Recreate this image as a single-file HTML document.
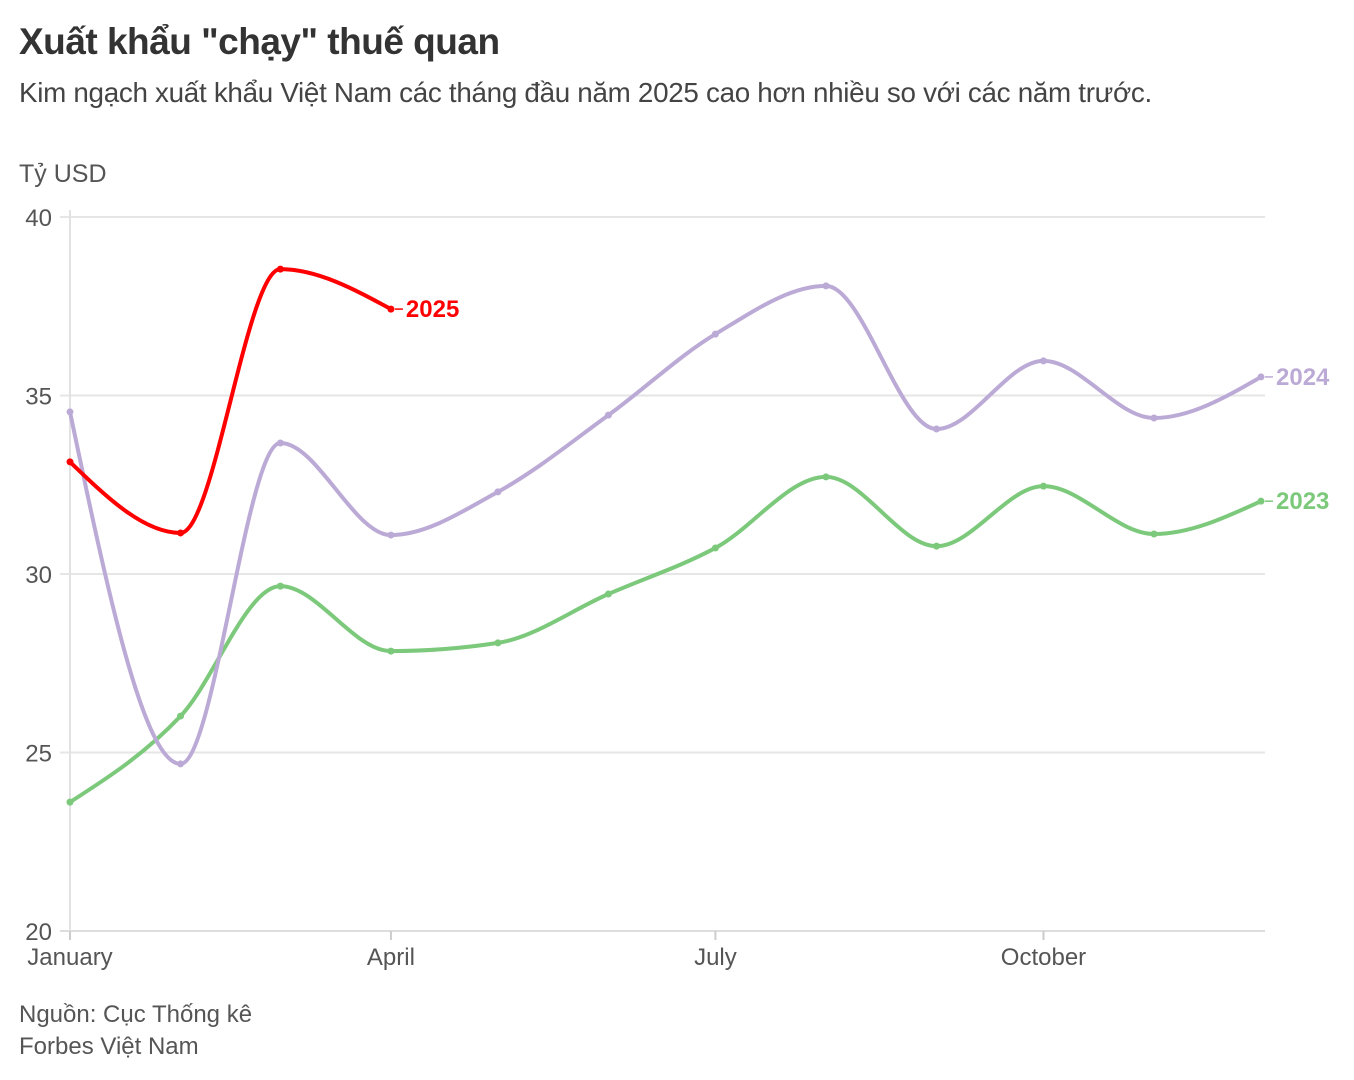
<!DOCTYPE html>
<html><head><meta charset="utf-8">
<style>
body{margin:0;background:#fff;font-family:"Liberation Sans","Noto Sans CJK SC",sans-serif;}
#wrap{position:relative;width:1354px;height:1080px;overflow:hidden;}
h1{position:absolute;left:19px;top:21px;margin:0;font-size:37px;font-weight:bold;color:#333;letter-spacing:-0.5px;}
.sub{position:absolute;left:19px;top:77px;font-size:27.8px;color:#444;letter-spacing:-0.3px;}
.unit{position:absolute;left:19px;top:160px;font-size:25px;color:#555;}
.src{position:absolute;left:19px;font-size:24px;color:#555;}
svg text{font-family:"Liberation Sans",sans-serif;}
</style></head><body>
<div id="wrap">
<h1>Xuất khẩu "chạy" thuế quan</h1>
<div class="sub">Kim ngạch xuất khẩu Việt Nam các tháng đầu năm 2025 cao hơn nhiều so với các năm trước.</div>
<div class="unit">Tỷ USD</div>
<svg id="chart" width="1354" height="1080" style="position:absolute;left:0;top:0"></svg>
<div class="src" style="top:1001px">Nguồn: Cục Thống kê</div>
<div class="src" style="top:1033px">Forbes Việt Nam</div>
</div>
<script>
const dayOfYear=[0,31,59,90,120,151,181,212,243,273,304,334];
const yTicks=[20,25,30,35,40];
const xTickLabels=["January","April","July","October"];
const xTickMonths=[0,3,6,9];
const s2023=[23.61,26.02,29.66,27.84,28.07,29.44,30.73,32.72,30.78,32.46,31.12,32.04];
const s2024=[34.54,24.68,33.67,31.09,32.3,34.45,36.72,38.07,34.06,35.97,34.37,35.52];
const s2025=[33.14,31.15,38.54,37.42];
const seriesNames=["2023","2024","2025"];

const svg=document.getElementById('chart');
const NS='http://www.w3.org/2000/svg';
const x=m=>70+dayOfYear[m]*(1191/334);
const y=v=>931-(v-20)*(714/20);
function mk(tag,attrs,parent){const e=document.createElementNS(NS,tag);for(const k in attrs)e.setAttribute(k,attrs[k]);(parent||svg).appendChild(e);return e;}
yTicks.forEach(t=>{
  const g=mk('line',{x1:60,x2:1265,y1:y(t),y2:y(t),stroke:t===20?'#ddd':'#e6e6e6','stroke-width':2});
  
  
  const tx=mk('text',{x:52,y:y(t)+9,'text-anchor':'end','font-size':24,fill:'#555'});
  tx.textContent=t;
  
  
});
const ax=mk('line',{x1:70,x2:70,y1:210,y2:938,stroke:'#e2e2e2','stroke-width':2});


xTickMonths.forEach((m,i)=>{
  const tk=mk('line',{x1:x(m),x2:x(m),y1:931,y2:940,stroke:'#ccc','stroke-width':2});
  
  
  const tx=mk('text',{x:x(m),y:965,'text-anchor':'middle','font-size':24,fill:'#555'});
  tx.textContent=xTickLabels[i];
  
  
});
const sign=v=>v<0?-1:1;
function pathD(vals){
  const p=vals.map((v,i)=>[x(i),y(v)]);
  const n=p.length;
  const h=[],s=[];
  for(let i=0;i<n-1;i++){h[i]=p[i+1][0]-p[i][0];s[i]=(p[i+1][1]-p[i][1])/h[i];}
  const t=new Array(n);
  for(let i=1;i<n-1;i++){
    const pp=(s[i-1]*h[i]+s[i]*h[i-1])/(h[i-1]+h[i]);
    t[i]=(sign(s[i-1])+sign(s[i]))*Math.min(Math.abs(s[i-1]),Math.abs(s[i]),0.5*Math.abs(pp))||0;
  }
  if(n>2){t[0]=(3*s[0]-t[1])/2;t[n-1]=(3*s[n-2]-t[n-2])/2;}else{t[0]=t[1]=s[0];}
  let d='M'+p[0][0]+','+p[0][1];
  for(let i=0;i<n-1;i++){
    const dx=h[i]/3;
    d+=`C${p[i][0]+dx},${p[i][1]+dx*t[i]} ${p[i+1][0]-dx},${p[i+1][1]-dx*t[i+1]} ${p[i+1][0]},${p[i+1][1]}`;
  }
  return d;
}
function drawSeries(vals,color,name){
  const pa=mk('path',{d:pathD(vals),fill:'none',stroke:color,'stroke-width':4,'stroke-linecap':'round'});
  
  
  vals.forEach((v,i)=>{
    const c=mk('circle',{cx:x(i),cy:y(v),r:3.5,fill:color});
    
    
  });
  const last=vals.length-1;
  const ln=mk('line',{x1:x(last)+4,x2:x(last)+12,y1:y(vals[last]),y2:y(vals[last]),stroke:color,'stroke-width':1.5});
  
  
  const t=mk('text',{x:x(last)+15,y:y(vals[last])+8,'font-size':24,'font-weight':'bold',fill:color});
  t.textContent=name;
  
  
}
drawSeries(s2023,'#7cc97c',seriesNames[0]);
drawSeries(s2024,'#bcaad6',seriesNames[1]);
drawSeries(s2025,'#ff0000',seriesNames[2]);
</script>
</body></html>
